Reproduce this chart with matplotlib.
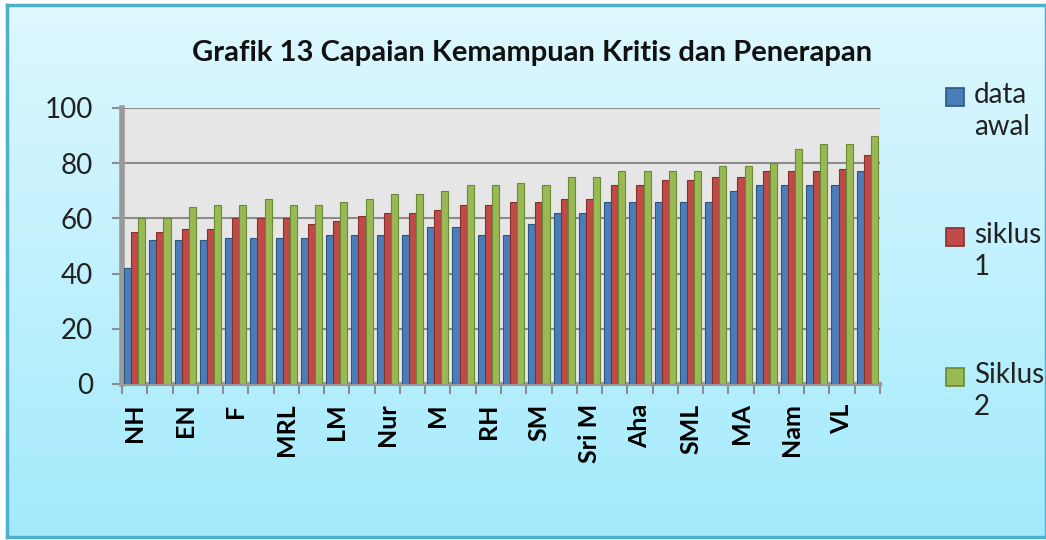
import matplotlib
matplotlib.use('Agg')
import matplotlib.pyplot as plt
from matplotlib.patches import Rectangle
import numpy as np

plt.rcParams['font.family'] = ['Lato', 'DejaVu Sans']

# label shown on every other group (Excel skips labels)
labels = ['NH', 'EN', 'F', 'MRL', 'LM', 'Nur', 'M', 'RH', 'SM', 'Sri M',
          'Aha', 'SML', 'MA', 'Nam', 'VL']

data_awal = [42, 52, 52, 52, 53, 53, 53, 53, 54, 54, 54, 54, 57, 57, 54,
             54, 58, 62, 62, 66, 66, 66, 66, 66, 70, 72, 72, 72, 72, 77]
siklus_1 = [55, 55, 56, 56, 60, 60, 60, 58, 59, 61, 62, 62, 63, 65, 65,
            66, 66, 67, 67, 72, 72, 74, 74, 75, 75, 77, 77, 77, 78, 83]
siklus_2 = [60, 60, 64, 65, 65, 67, 65, 65, 66, 67, 69, 69, 70, 72, 72,
            73, 72, 75, 75, 77, 77, 77, 77, 79, 79, 80, 85, 87, 87, 90]

series = [('data\nawal', data_awal, '#4a7ebb', '#2f5680'),
          ('siklus\n1', siklus_1, '#be4b48', '#87302e'),
          ('Siklus\n2', siklus_2, '#98b954', '#6a8a33')]

W, H = 1046, 540
fig = plt.figure(figsize=(W / 100, H / 100), dpi=100)
fig.patch.set_facecolor('white')

# gradient background with border
bg = fig.add_axes([7 / W, 3 / H, 1 - 7 / W, 1 - 8 / H])
grad = np.linspace(0, 1, 256).reshape(-1, 1)
top = np.array([0.87, 0.97, 0.995])
bot = np.array([0.64, 0.92, 0.99])
img = top + (bot - top) * grad[:, :, None] * np.ones((1, 1, 3))
bg.imshow(img, aspect='auto', extent=[0, 1, 0, 1])
bg.set_xlim(0, 1)
bg.set_ylim(0, 1)
bg.set_xticks([])
bg.set_yticks([])
for s in bg.spines.values():
    s.set_color('#4fb0cc')
    s.set_linewidth(2.5)
bg.set_zorder(-5)

ax = fig.add_axes([122 / W, 1 - 384 / H, (880 - 122) / W, (384 - 108) / H])
ax.set_facecolor('#e6e6e6')

x = np.arange(len(data_awal))
width = 0.28
for i, (name, vals, color, edge) in enumerate(series):
    ax.bar(x + (i - 1) * width, vals, width, color=color, edgecolor=edge,
           linewidth=0.8, zorder=3)

ax.set_xlim(-0.5, len(data_awal) - 0.5)
ax.set_ylim(0, 100)
ax.set_yticks(np.arange(0, 101, 20))
ax.yaxis.grid(True, color='#8c8c8c', linewidth=1.5, zorder=0)
ax.set_axisbelow(True)

ax.set_xticks(x[::2])
ax.set_xticklabels(labels, rotation=90, fontsize=18, fontweight='bold',
                   va='top')
ax.set_xticks(np.arange(-0.5, len(data_awal), 1), minor=True)
ax.tick_params(axis='x', which='major', length=0, pad=14)
ax.tick_params(axis='x', which='minor', length=7, width=1.5, color='#8c8c8c',
               direction='out')
ax.tick_params(axis='y', length=7, width=1.5, color='#8c8c8c', labelsize=20,
               labelcolor='#222222', pad=14)

for side in ['top', 'right']:
    ax.spines[side].set_visible(False)
ax.spines['left'].set_color('#9a9a9a')
ax.spines['left'].set_linewidth(4)
ax.spines['bottom'].set_color('#9a9a9a')
ax.spines['bottom'].set_linewidth(3)

fig.text(532 / W, 1 - 53 / H, 'Grafik 13 Capaian Kemampuan Kritis dan Penerapan',
         ha='center', va='center', fontsize=21, fontweight='bold',
         color='#111111')

# legend drawn like the Excel one: square next to first line
leg_y = [97, 237, 377]
for (name, vals, color, edge), y in zip(series, leg_y):
    fig.patches.append(Rectangle((946 / W, 1 - (y + 9) / H), 18 / W, 18 / H,
                                 transform=fig.transFigure, facecolor=color,
                                 edgecolor=edge, linewidth=1.2))
    fig.text(974 / W, 1 - (y - 15) / H, name, ha='left', va='top',
             fontsize=20, color='#222222', linespacing=1.3)

fig.savefig('out.png', dpi=100)
